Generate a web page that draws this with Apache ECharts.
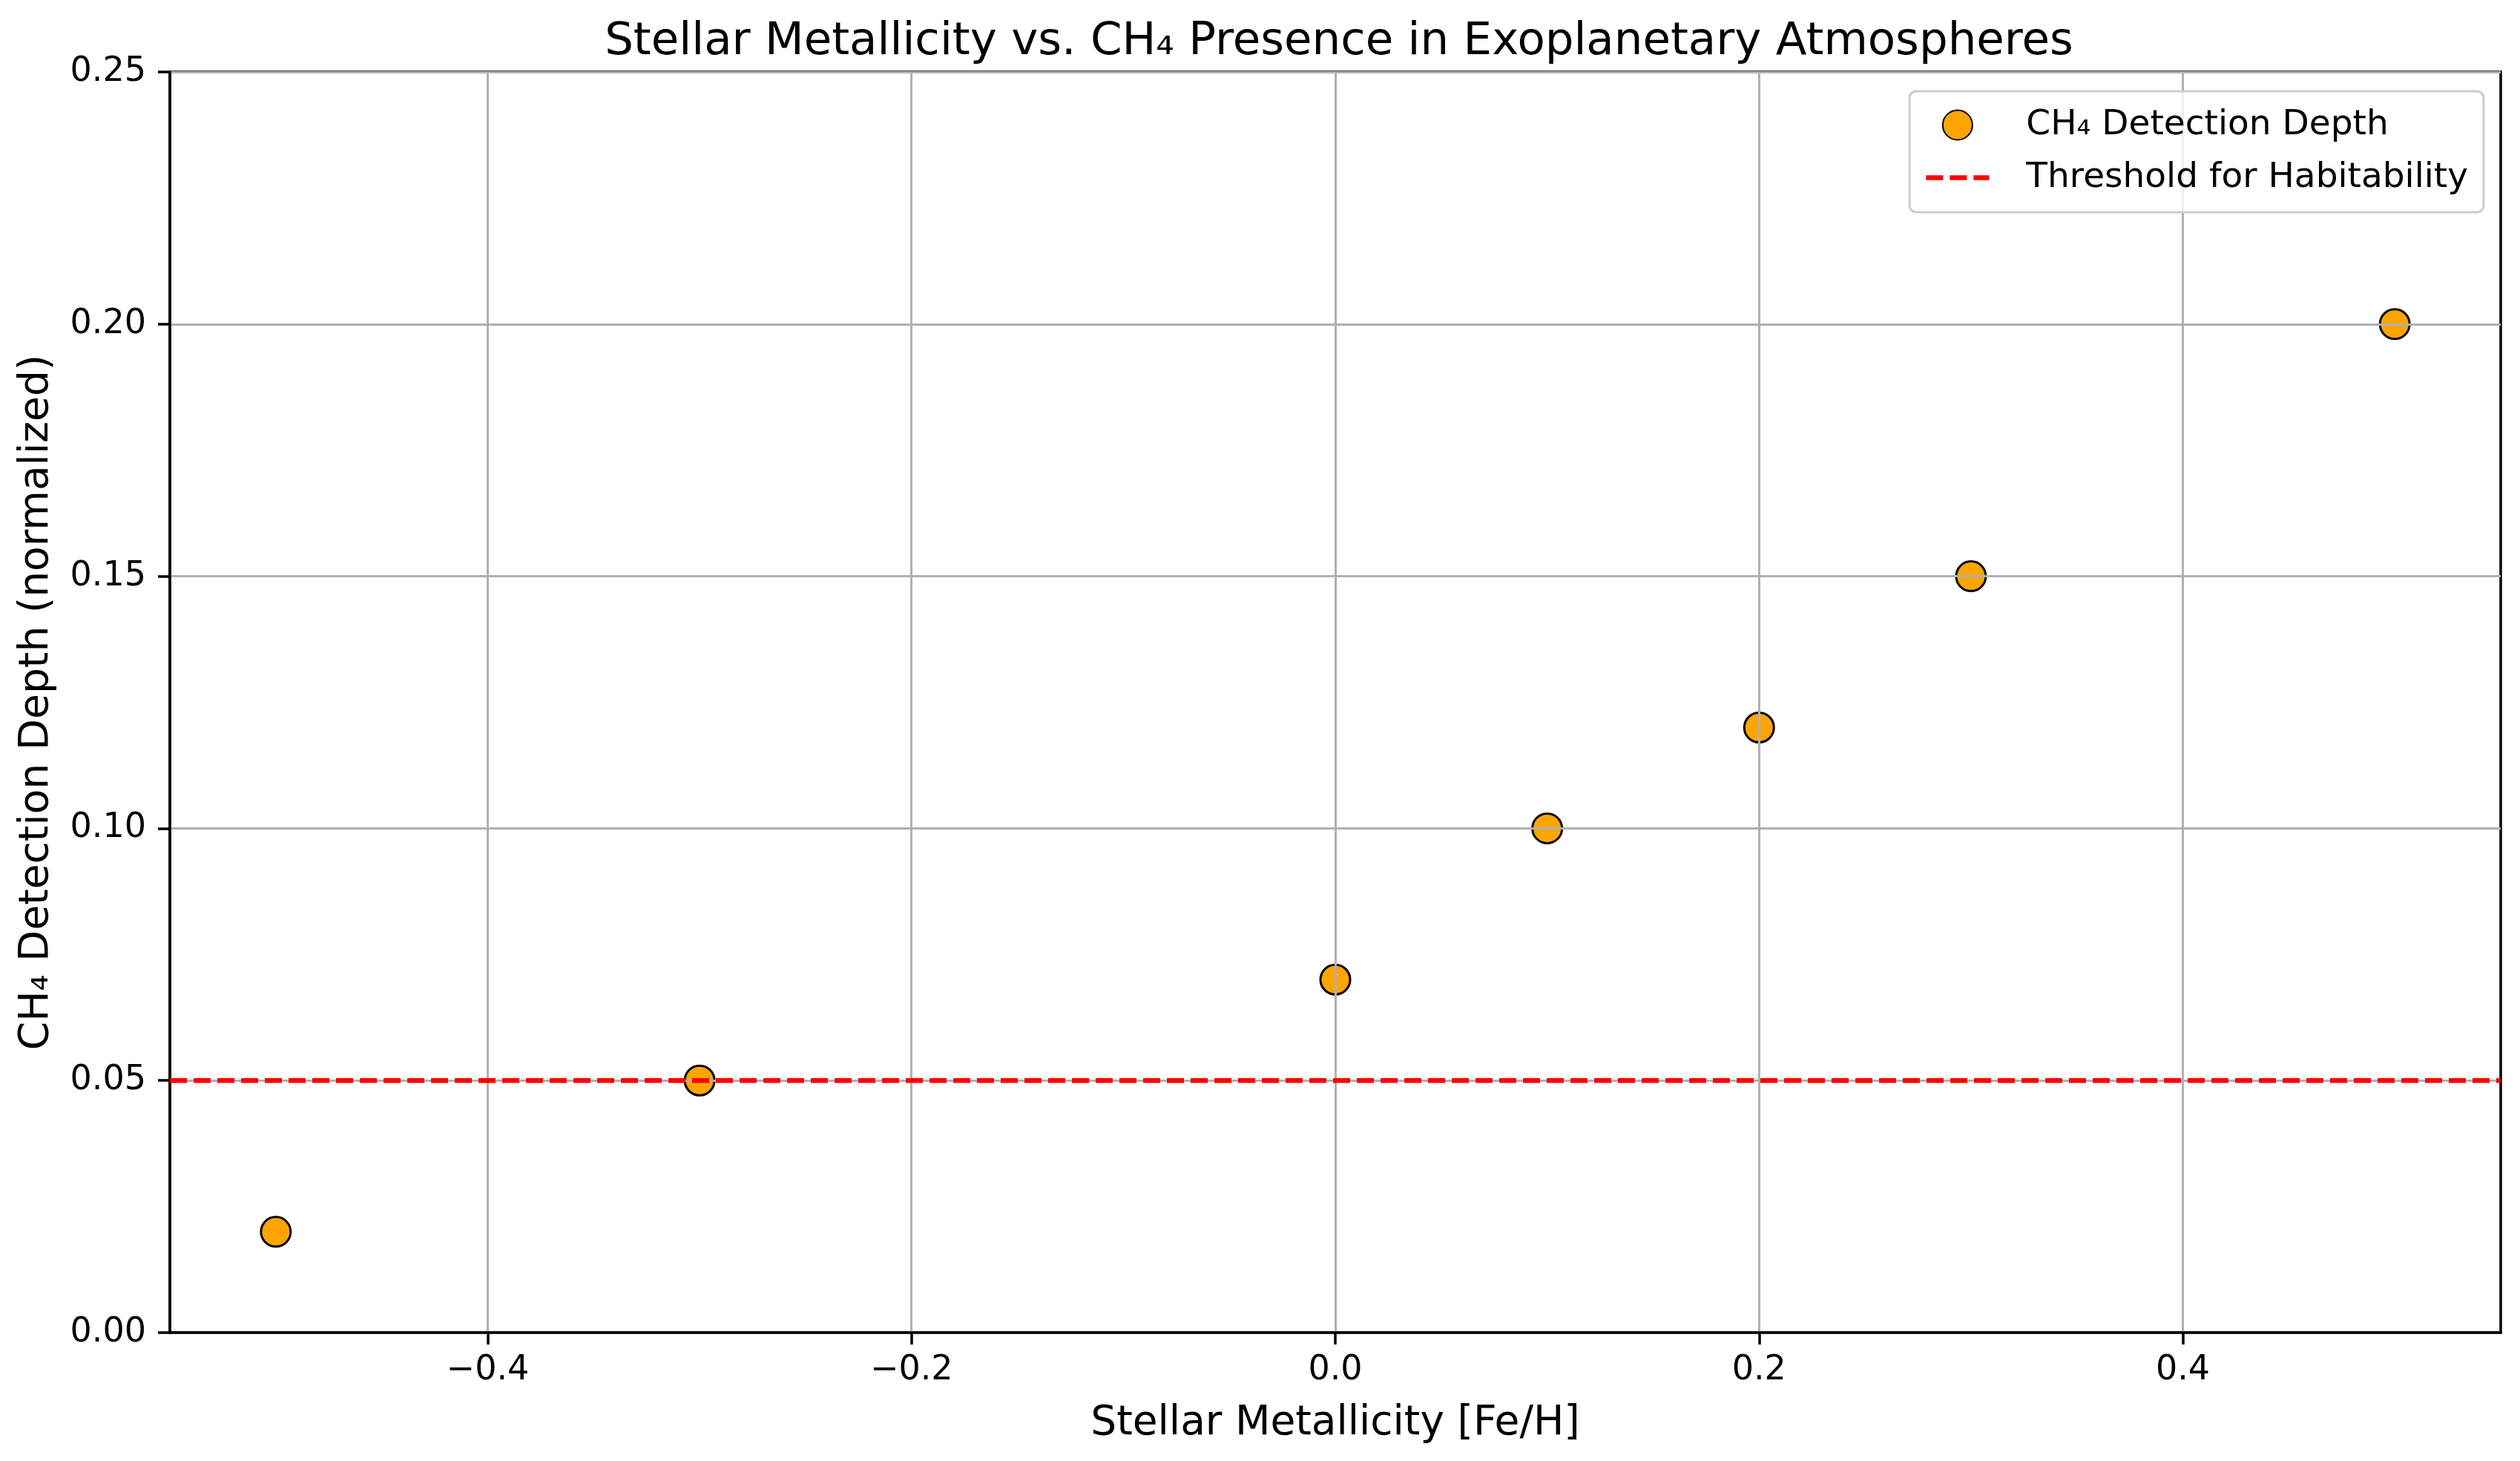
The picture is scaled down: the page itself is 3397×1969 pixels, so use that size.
<!DOCTYPE html>
<html>
<head>
<meta charset="utf-8">
<script src="https://cdn.jsdelivr.net/npm/echarts@6/dist/echarts.min.js"></script>
<style>
html,body{margin:0;padding:0;background:#fff;}
#c{width:3397px;height:1969px;}
</style>
</head>
<body>
<div id="c"></div>
<script>
const metallicity = [-0.5, -0.3, 0.0, 0.1, 0.2, 0.3, 0.5];
const ch4Depth = [0.02, 0.05, 0.07, 0.10, 0.12, 0.15, 0.20];
const threshold = 0.05;
const xRange = [-0.55, 0.55];
const yRange = [0, 0.25];
const xTicks = [-0.4, -0.2, 0.0, 0.2, 0.4];
const yTicks = [0.00, 0.05, 0.10, 0.15, 0.20, 0.25];
const titleText = 'Stellar Metallicity vs. CH\u2084 Presence in Exoplanetary Atmospheres';
const xName = 'Stellar Metallicity [Fe/H]';
const yName = 'CH\u2084 Detection Depth (normalized)';
const seriesNames = ['CH\u2084 Detection Depth', 'Threshold for Habitability'];

const FONT = 'DejaVu Sans';
const scatterData = metallicity.map((x, i) => [x, ch4Depth[i]]);
const thresholdData = xRange.map(x => [x, threshold]);

const chart = echarts.init(document.getElementById('c'), null, {renderer: 'canvas'});
chart.setOption({
  animation: false,
  backgroundColor: '#ffffff',
  title: {
    text: titleText,
    left: 1800,
    top: 22,
    textAlign: 'center',
    textStyle: {fontFamily: FONT, fontSize: 61, fontWeight: 'normal', color: '#000'}
  },
  grid: {
    left: 229, right: 26, top: 97, bottom: 173,
    show: true, borderColor: '#000', borderWidth: 3.5, backgroundColor: 'transparent', z: 3
  },
  legend: {
    orient: 'vertical',
    right: 49,
    top: 123,
    data: [
      {name: seriesNames[0]},
      {
        name: seriesNames[1],
        itemStyle: {color: 'rgba(0,0,0,0)', borderColor: 'rgba(0,0,0,0)', borderWidth: 0},
        lineStyle: {color: '#ff0000', width: 6.5, type: [23, 9], opacity: 1}
      }
    ],
    itemWidth: 85,
    itemHeight: 40,
    itemGap: 24,
    padding: [22, 21, 23, 19],
    backgroundColor: 'rgba(255,255,255,0.8)',
    borderColor: '#cccccc',
    borderWidth: 3,
    borderRadius: 9,
    z: 10,
    textStyle: {fontFamily: FONT, fontSize: 47, color: '#000', lineHeight: 47, padding: [0, 0, 0, 45]}
  },
  xAxis: {
    type: 'value',
    min: xRange[0], max: xRange[1],
    z: 3,
    name: xName,
    nameLocation: 'middle',
    nameGap: 95,
    nameTextStyle: {fontFamily: FONT, fontSize: 55, color: '#000'},
    axisLine: {show: true, onZero: false, lineStyle: {color: '#000', width: 3.5}},
    axisTick: {show: true, customValues: xTicks, length: 16, lineStyle: {color: '#000', width: 3.5}},
    axisLabel: {
      customValues: xTicks,
      margin: 28,
      fontFamily: FONT, fontSize: 46, color: '#000',
      formatter: v => v.toFixed(1).replace('-', '\u2212')
    },
    splitLine: {show: true, lineStyle: {color: '#b0b0b0', width: 3}}
  },
  yAxis: {
    type: 'value',
    min: yRange[0], max: yRange[1], interval: 0.05,
    z: 3,
    name: yName,
    nameLocation: 'middle',
    nameGap: 152,
    nameTextStyle: {fontFamily: FONT, fontSize: 55, color: '#000'},
    axisLine: {show: true, onZero: false, lineStyle: {color: '#000', width: 3.5}},
    axisTick: {show: true, length: 16, lineStyle: {color: '#000', width: 3.5}},
    axisLabel: {
      margin: 32,
      fontFamily: FONT, fontSize: 46, color: '#000',
      formatter: v => v.toFixed(2)
    },
    splitLine: {show: true, lineStyle: {color: '#b0b0b0', width: 3}}
  },
  series: [
    {
      name: seriesNames[0],
      type: 'scatter',
      data: scatterData,
      symbol: 'circle',
      symbolSize: 40,
      z: 2,
      itemStyle: {color: '#FFA500', borderColor: '#000', borderWidth: 3, opacity: 1}
    },
    {
      name: seriesNames[1],
      type: 'line',
      data: thresholdData,
      symbol: 'none',
      z: 5,
      lineStyle: {color: '#ff0000', width: 6.5, type: [23, 9]},
      itemStyle: {color: '#ff0000'}
    }
  ]
});
</script>
</body>
</html>
